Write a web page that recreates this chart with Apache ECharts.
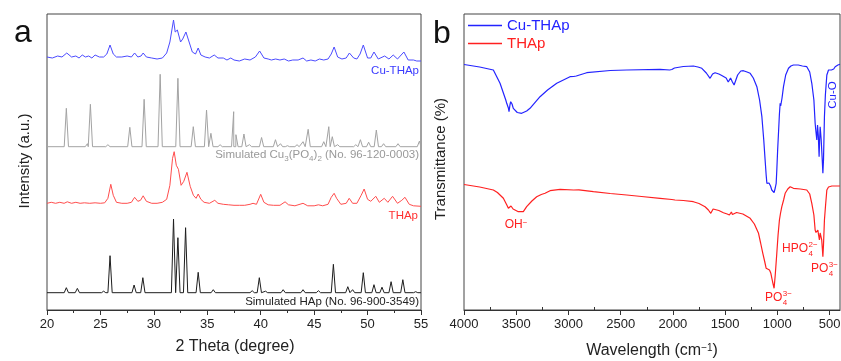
<!DOCTYPE html>
<html><head><meta charset="utf-8">
<script src="https://cdn.jsdelivr.net/npm/echarts@6/dist/echarts.min.js"></script>
<style>html,body{margin:0;padding:0;background:#fff}#c{width:841px;height:361px}</style>
</head><body><div id="c"></div>
<script>
const FONT = '"Liberation Sans", Arial, Helvetica, sans-serif';

// ---------- Panel a: XRD (2θ, intensity relative to each trace's own baseline) ----------
const xrdCuTHAp = [[20,0],[20.5,-1],[21,1],[21.4,0],[21.85,4],[22.3,0],[22.7,1],[23,-1],[23.3,2],[23.6,0],[23.9,1],[24.2,-1],[24.5,2],[24.9,0],[25.3,0],[25.6,3],[25.9,12],[26.2,3],[26.5,0],[27,0],[27.5,1],[27.9,0],[28.2,4],[28.5,0],[28.8,1],[29,4],[29.3,0],[29.8,-1],[30.3,-2],[30.8,-1],[31.2,4],[31.5,15],[31.84,37],[32,25],[32.2,27],[32.5,15],[32.7,18],[33,25],[33.3,15],[33.6,5],[33.9,3],[34.15,9],[34.4,2],[34.8,0],[35.2,-1],[35.65,2],[36,-1],[36.5,-1],[36.84,-3],[37.2,-1],[37.5,-3],[38,-4],[38.5,-2],[39,-3],[39.5,0],[39.9,6],[40.3,-1],[40.7,-2],[41,-3],[41.4,-2],[41.8,-3],[42.2,-2],[42.6,-4],[43,-3],[43.5,-3],[43.96,-1],[44.3,-4],[44.7,-3],[45.1,-4],[45.5,-2],[45.9,-3],[46.3,-2],[46.6,3],[46.87,10],[47.2,0],[47.6,-2],[48,-1],[48.3,4],[48.7,-1],[49,-2],[49.3,3],[49.6,12],[50,-1],[50.3,-1],[50.6,5],[51,-2],[51.6,1],[52,-2],[52.4,2],[52.8,-2],[53.4,5],[53.8,-3],[54.3,-3],[54.6,-4],[55,-4]];
const xrdTHAp = [[20,0],[20.4,1],[20.8,0],[21.2,1],[21.6,0],[21.9,1.5],[22.3,0],[22.7,1],[23.1,0],[23.5,0.5],[24,0],[24.5,0.5],[25,0],[25.4,0.5],[25.7,5],[25.97,19],[26.2,8],[26.5,1],[27,0],[27.5,0],[27.9,1],[28.2,6],[28.5,2],[28.75,3],[29,7.5],[29.3,2],[29.8,0],[30.3,0],[30.8,1],[31.2,4],[31.5,18],[31.75,45],[31.9,51.6],[32.1,38],[32.3,34],[32.55,18],[32.8,22],[33.1,31],[33.4,17],[33.7,8],[33.95,5],[34.15,9.3],[34.4,4],[34.7,1],[35.2,0],[35.7,3],[36,0],[36.5,-1],[37,-1.5],[37.5,-2],[38,-2],[38.5,-2],[39,-1],[39.28,0],[39.6,-1],[40,9],[40.3,1],[40.7,-1.5],[41.2,-2],[41.8,-2],[42.28,1.5],[42.6,-1.5],[43.2,-2.5],[43.96,0],[44.4,-2.5],[45,-2.5],[45.4,-1.5],[45.8,-2.5],[46.3,-1],[46.6,6],[46.87,10],[47.1,5],[47.5,-1],[48,0],[48.28,5],[48.6,0],[49,0],[49.4,8],[49.68,14.3],[50,4],[50.3,2],[50.77,7],[51.1,1],[51.56,5],[51.9,1],[52.34,7],[52.8,0],[53.2,3],[53.5,6],[53.9,-1],[54.3,-2.5],[55,-3]];
// simulated patterns: [2θ, peak height]
const simCu3PO42Peaks = [[21.81,38.4],[23.78,3],[24.06,42.4],[25.7,2],[27.75,19.4],[29.09,47.4],[30.59,72.4],[32.25,68.4],[33.69,20],[34.93,36.7],[35.34,13.4],[36.2,2],[37.47,35],[37.68,12],[38.43,12.7],[38.95,2],[40.08,9.2],[41.38,7],[41.85,3],[42.5,1],[43.4,2],[43.96,5],[44.44,17.4],[45.9,5],[46.37,20],[46.7,10],[47.2,2],[48.9,2],[49.33,7],[50.1,4.5],[50.82,16.7],[51.5,3],[52.85,3],[54.85,5.5]];
const simHApPeaks = [[21.81,5],[22.84,4.3],[25.3,1.5],[25.9,37],[28.15,7.7],[28.97,15],[31.84,73.7],[32.25,55],[32.97,65],[34.15,20.4],[35.56,3],[39.2,2],[39.87,15],[40.45,1.5],[42.1,3],[43.96,3],[45.4,2],[46.8,28.4],[48.15,6],[48.6,3],[49.6,20],[50.6,8],[51.35,5.5],[52.2,11],[53.3,13],[54.5,1]];
// vertical stacking of the four patterns
const offHAp = 17.3, offTHAp = 106.7, offCu3 = 163.3, offCuTHAp = 253;

// ---------- Panel b: FTIR (wavenumber, transmittance a.u.) ----------
const ftirCuTHAp = [[4000,245.5],[3990,245],[3850,243],[3719,240],[3655,226.7],[3600,210],[3591,206.7],[3575,202],[3569,198.3],[3560,205],[3553,208.3],[3540,206],[3528,201.7],[3490,197.5],[3448,196.7],[3400,199],[3368,201.7],[3272,213.3],[3200,220],[3112,226.7],[2985,233.3],[2950,233.5],[2940,232.5],[2925,234],[2825,237.3],[2600,239.5],[2442,240],[2123,240.7],[2030,240],[2025,239],[2010,240.5],[1995,239],[1985,242],[1900,243.5],[1804,244],[1760,243],[1723,241.7],[1680,237],[1644,231.7],[1620,236],[1596,237.3],[1560,236],[1532,234.5],[1490,232],[1470,228],[1459,226.7],[1448,232],[1440,232],[1430,228],[1414,225],[1380,235],[1350,239],[1325,239.3],[1290,238],[1260,236.7],[1230,232],[1196,223.3],[1170,210],[1148,193.3],[1130,170],[1117,150],[1107,135],[1100,126.7],[1090,125],[1080,127],[1065,124],[1053,120],[1031,117.3],[1020,122],[1011,126.7],[1005,140],[997,160],[989,176.7],[980,196],[973,206.7],[968,204],[963,202],[955,212],[941,223.3],[920,235],[893,241.7],[870,244],[846,245],[800,245],[760,244],[718,243.3],[690,238],[670,226.7],[650,210],[638,186.7],[630,178],[622,170],[615,185],[608,175],[600,153.3],[595,170],[590,183.3],[580,170],[570,150],[564,136.7],[558,150],[549,193.3],[540,215],[526,235],[510,240],[494,241.7],[482,240],[472,238.3],[460,241],[446,243.3],[420,245],[400,245.7]];
const ftirTHAp = [[4000,125.5],[3990,125],[3850,123],[3719,120],[3680,117.5],[3623,111.7],[3590,105],[3575,101.7],[3562,103],[3550,104],[3530,101],[3480,98.3],[3432,98.3],[3400,103.3],[3350,109],[3304,113.3],[3260,115.5],[3224,116.7],[3176,119.3],[3080,120.7],[2950,120],[2900,120.2],[2761,118.3],[2600,116.5],[2442,115],[2300,113.5],[2123,111.7],[2010,110.5],[1995,111.5],[1980,110],[1900,109.5],[1804,108.3],[1750,106.5],[1692,103.3],[1660,100],[1637,96.7],[1615,101],[1596,102.3],[1560,99.5],[1516,97.3],[1480,96],[1459,95],[1448,97],[1440,98],[1430,95.5],[1414,94.3],[1390,97.5],[1372,98.3],[1330,96],[1260,91.7],[1220,86],[1180,76.7],[1160,67],[1139,56.7],[1120,48],[1107,41.7],[1100,40.5],[1090,43.3],[1075,40],[1062,36.7],[1045,28],[1031,21.7],[1020,35],[1005,56.7],[993,75],[980,90],[970,96.5],[957,103.3],[940,110],[925,116.7],[900,121],[877,123.3],[860,122.5],[846,121.7],[780,121],[718,120],[690,116],[670,106.7],[650,95],[638,80],[630,77.5],[622,76.7],[617,79],[612,80],[605,75],[597,70],[590,77],[584,78.3],[575,70],[568,60],[564,53.3],[558,65],[549,90],[538,105],[526,120],[510,123],[478,124],[440,124],[400,124]];
const ftirMajorTicks = [500,1000,1500,2000,2500,3000,3500,4000];
const ftirMinorTicks = [750,1250,1750,2250,2750,3250,3750];

// peak (hkl) labels: [text, 2θ, stacked height]
const cuPeakLabels = [['(110)',21.66,206],['(0-11)',27.58,188.3],['(012)',30.55,240]];
const hapPeakLabels = [['(002)',25.87,58.3],['(121)',31.2,96],['(030)',33.85,88],['(002)',34.22,44],['(310)',39.9,38.3],['(222)',46.83,50.7],['(123)',49.64,44.3]];
const hapRotLabels = [['(112)',32.35,82]];

function shift(arr, off){ return arr.map(p => [p[0], p[1] + off]); }
function sticks(peaks, off){
  const pts = [[20, off],[55, off]];
  peaks.forEach(p => { pts.push([p[0]-0.2, off]); pts.push([p[0], off + p[1]]); pts.push([p[0]+0.2, off]); });
  pts.sort((a,b) => a[0]-b[0]);
  return pts;
}
function labelSeries(list, color, rotate){
  return {
    type:'scatter', xAxisIndex:0, yAxisIndex:0, symbolSize:1, itemStyle:{opacity:0}, silent:true, z:10,
    data: list.map(l => ({name:l[0], value:[l[1], l[2]]})),
    label:{show:true, position:'inside', formatter:'{b}', color:color, fontSize:9.5, fontFamily:FONT, rotate: rotate||0}
  };
}

const axisColor = '#333';
const chart = echarts.init(document.getElementById('c'));

const mctx = document.createElement('canvas').getContext('2d');
function tw(t, size){ mctx.font = size + 'px ' + FONT; return mctx.measureText(t).width; }
function ionLabel(base, sub, sup, x, y, color){
  const fs = 12, ss = 8, w = tw(base, fs);
  return {type:'group', x:x, y:y, silent:true, children:[
    {type:'text', style:{x:0, y:0, text:base, fill:color, font:fs+'px '+FONT, verticalAlign:'middle', align:'left'}},
    {type:'text', style:{x:w+0.5, y:-4.5, text:sup, fill:color, font:ss+'px '+FONT, verticalAlign:'middle', align:'left'}},
    {type:'text', style:{x:w+0.5, y:4.5, text:sub, fill:color, font:ss+'px '+FONT, verticalAlign:'middle', align:'left'}}
  ]};
}
const plainNum = v => String(v);

const option = {
  backgroundColor:'#fff',
  animation:false,
  grid:[
    {left:47, top:14, width:374, height:296, show:true, borderColor:'#444', borderWidth:1, backgroundColor:'transparent', containLabel:false, outerBoundsMode:'none'},
    {left:464, top:14, width:376, height:296, show:true, borderColor:'#444', borderWidth:1, backgroundColor:'transparent', containLabel:false, outerBoundsMode:'none'}
  ],
  xAxis:[
    {type:'value', gridIndex:0, min:20, max:55, interval:5,
     axisLine:{show:true, onZero:false, lineStyle:{color:axisColor, width:1}},
     axisTick:{show:true, length:5, lineStyle:{color:axisColor}},
     minorTick:{show:true, splitNumber:2, length:3, lineStyle:{color:axisColor}},
     axisLabel:{fontSize:13, color:'#222', fontFamily:FONT, margin:8, formatter:plainNum},
     splitLine:{show:false}},
    {type:'value', gridIndex:1, min:400, max:4000, inverse:true,
     axisLine:{show:true, onZero:false, lineStyle:{color:axisColor, width:1}},
     axisTick:{show:true, length:5, customValues:ftirMajorTicks, lineStyle:{color:axisColor}},
     axisLabel:{fontSize:13, color:'#222', fontFamily:FONT, margin:8, customValues:ftirMajorTicks, formatter:plainNum},
     splitLine:{show:false}},
    {type:'value', gridIndex:1, min:400, max:4000, inverse:true,
     axisLine:{show:false},
     axisTick:{show:true, length:3, customValues:ftirMinorTicks, lineStyle:{color:axisColor}},
     axisLabel:{show:false},
     splitLine:{show:false}}
  ],
  yAxis:[
    {type:'value', gridIndex:0, min:0, max:296, show:false},
    {type:'value', gridIndex:1, min:0, max:296, show:false}
  ],
  legend:{
    left:463, top:13, orient:'vertical', itemWidth:34, itemHeight:1.5, itemGap:3, icon:'rect',
    textStyle:{fontSize:15, fontFamily:FONT},
    data:[{name:'Cu-THAp', textStyle:{color:'#2323ff'}}, {name:'THAp', textStyle:{color:'#ff2020'}}],
    selectedMode:false
  },
  series:[
    {name:'Cu-THAp (XRD)', type:'line', xAxisIndex:0, yAxisIndex:0, symbol:'none', data:shift(xrdCuTHAp, offCuTHAp), lineStyle:{color:'#4b4bff', width:1}, itemStyle:{color:'#4b4bff'}},
    {name:'Simulated Cu3(PO4)2', type:'line', xAxisIndex:0, yAxisIndex:0, symbol:'none', data:sticks(simCu3PO42Peaks, offCu3), lineStyle:{color:'#a3a3a3', width:1}, itemStyle:{color:'#a3a3a3'}},
    {name:'THAp (XRD)', type:'line', xAxisIndex:0, yAxisIndex:0, symbol:'none', data:shift(xrdTHAp, offTHAp), lineStyle:{color:'#ff4d4d', width:1}, itemStyle:{color:'#ff4d4d'}},
    {name:'Simulated HAp', type:'line', xAxisIndex:0, yAxisIndex:0, symbol:'none', data:sticks(simHApPeaks, offHAp), lineStyle:{color:'#1e1e1e', width:1}, itemStyle:{color:'#1e1e1e'}},
    {name:'Cu-THAp', type:'line', xAxisIndex:1, yAxisIndex:1, symbol:'none', data:ftirCuTHAp, lineStyle:{color:'#2323ff', width:1.2}, itemStyle:{color:'#2323ff'}},
    {name:'THAp', type:'line', xAxisIndex:1, yAxisIndex:1, symbol:'none', data:ftirTHAp, lineStyle:{color:'#ff2020', width:1.2}, itemStyle:{color:'#ff2020'}},
    labelSeries(cuPeakLabels, '#8a8a8a'),
    labelSeries(hapPeakLabels, '#333'),
    labelSeries(hapRotLabels, '#333', 90)
  ],
  graphic:[
    {type:'text', x:14, y:33, style:{text:'a', font:'32px '+FONT, fill:'#111', verticalAlign:'middle'}},
    {type:'text', x:433, y:34, style:{text:'b', font:'32px '+FONT, fill:'#111', verticalAlign:'middle'}},
    {type:'text', x:25, y:161, rotation:Math.PI/2, style:{text:'Intensity (a.u.)', font:'15px '+FONT, fill:'#222', align:'center', verticalAlign:'middle'}},
    {type:'text', x:441, y:159, rotation:Math.PI/2, style:{text:'Transmittance (%)', font:'15px '+FONT, fill:'#222', align:'center', verticalAlign:'middle'}},
    {type:'text', x:235, y:347, style:{text:'2 Theta (degree)', font:'16px '+FONT, fill:'#222', align:'center', verticalAlign:'middle'}},
    {type:'text', x:652, y:351, style:{text:'Wavelength (cm{sup|−1})', font:'16px '+FONT, fill:'#222', align:'center', verticalAlign:'middle',
      rich:{sup:{fontSize:10, fontFamily:FONT, verticalAlign:'top', fill:'#222', padding:[0,0,6,0]}}}},
    {type:'text', x:419, y:71, style:{text:'Cu-THAp', font:'11.5px '+FONT, fill:'#3a3aff', align:'right', verticalAlign:'middle'}},
    {type:'text', x:418, y:216, style:{text:'THAp', font:'11.5px '+FONT, fill:'#ff3030', align:'right', verticalAlign:'middle'}},
    {type:'text', x:419, y:155, style:{text:'Simulated Cu{s|3}(PO{s|4}){s|2} (No. 96-120-0003)', font:'11.5px '+FONT, fill:'#999', align:'right', verticalAlign:'middle',
      rich:{s:{fontSize:8, fontFamily:FONT, fill:'#999', verticalAlign:'bottom', lineHeight:16}}}},
    {type:'text', x:419, y:302, style:{text:'Simulated HAp (No. 96-900-3549)', font:'11.5px '+FONT, fill:'#222', align:'right', verticalAlign:'middle'}},
    {type:'text', x:833, y:95, rotation:Math.PI/2, style:{text:'Cu-O', font:'11.5px '+FONT, fill:'#2323ff', align:'center', verticalAlign:'middle'}},
    {type:'text', x:516, y:225, style:{text:'OH{sup|−}', font:'12px '+FONT, fill:'#ff2020', align:'center', verticalAlign:'middle',
      rich:{sup:{fontSize:8, fontFamily:FONT, fill:'#ff2020', verticalAlign:'top', padding:[0,0,5,0]}}}},
    ionLabel('PO','4','3−',765,298,'#ff2020'),
    ionLabel('HPO','4','2−',782,249,'#ff2020'),
    ionLabel('PO','4','3−',811,269,'#ff2020')
  ]
};
chart.setOption(option);
</script></body></html>
